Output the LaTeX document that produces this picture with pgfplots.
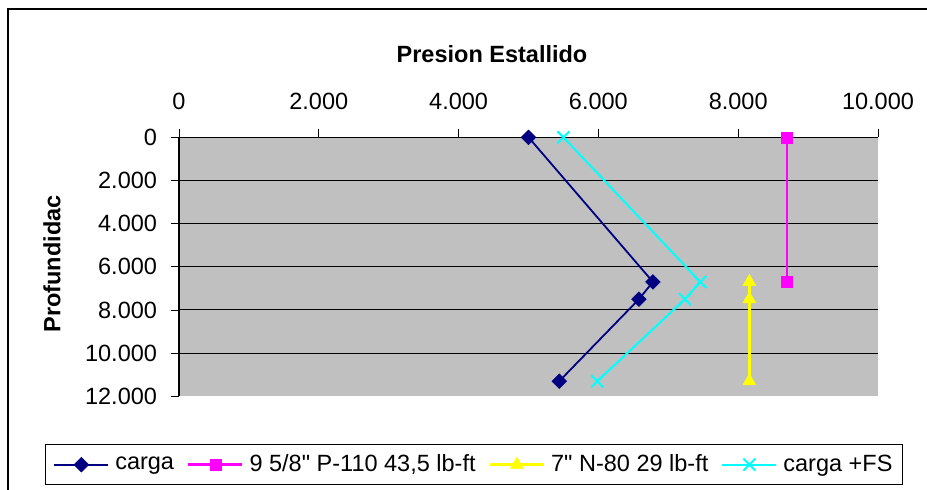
\documentclass[border=0pt]{standalone}
\usepackage{pgfplots}
\pgfplotsset{compat=1.18}
\usepackage{fontspec}
\setmainfont{Liberation Sans}
\definecolor{plotgray}{HTML}{C0C0C0}
\definecolor{navyc}{HTML}{000080}
\definecolor{magc}{HTML}{FF00FF}
\definecolor{yelc}{HTML}{FFFF00}
\definecolor{cyanc}{HTML}{00FFFF}
\begin{document}
\fontsize{23.5}{28}\selectfont
\begin{tikzpicture}
\useasboundingbox (0pt,0pt) rectangle (927pt,-490pt);
\draw[line width=1.5pt,black] (8pt,-491pt) -- (8pt,-9pt) -- (928pt,-9pt);
\node[font=\bfseries\fontsize{23.5}{28}\selectfont, anchor=base] at (492pt,-62pt) {Presion Estallido};
\node[font=\bfseries\fontsize{23.5}{28}\selectfont, rotate=90, anchor=center] at (52pt,-264pt) {Profundidac};
\begin{axis}[
  at={(179pt,-137.3pt)}, anchor=north west,
  scale only axis, width=699pt, height=259pt,
  xmin=0, xmax=10000, ymin=0, ymax=12000,
  y dir=reverse,
  clip=false,
  axis background/.style={fill=plotgray},
  axis line style={draw=none},
  xtick={0,2000,...,10000},
  ytick={0,2000,...,12000},
  xtick pos=upper, xticklabel pos=upper,
  ytick pos=left, yticklabel pos=left,
  tick align=outside,
  major tick length=8pt,
  tick style={black, line width=0.8pt},
  extra y ticks={2000,4000,6000,8000,10000},
  extra y tick labels={},
  extra y tick style={grid=major, major tick length=0pt},
  major grid style={black, line width=1pt},
  /pgf/number format/assume math mode=true,
  /pgf/number format/1000 sep={.},
  scaled ticks=false,
  tick label style={font=\fontsize{23.5}{28}\selectfont},
  xticklabel style={yshift=12pt},
  yticklabel style={xshift=-6pt},
  legend columns=4,
  legend style={at={(axis description cs:0.422,-0.264)}, anchor=center,
    draw=black, line width=1pt, inner xsep=8pt, inner ysep=8pt,
    font=\fontsize{23.5}{28}\selectfont,
    /tikz/every odd column/.append style={column sep=4pt},
    /tikz/every even column/.append style={column sep=11pt}},
  legend image code/.code={\draw[mark repeat=2,mark phase=2,#1] plot coordinates {(0pt,0pt) (27pt,0pt) (54pt,0pt)};},
]
\draw[black, line width=1.2pt] (axis cs:0,0) -- (axis cs:10000,0);
\draw[black, line width=1.2pt] (axis cs:0,0) -- (axis cs:0,12000);
\addplot[navyc, line width=1.8pt, mark=square*, mark size=5.2pt, mark options={rotate=45, fill=navyc, draw=navyc, line width=0.5pt}]
  coordinates {(5000,0) (6780,6700) (6580,7500) (5440,11300)};
\addlegendentry{carga}
\addplot[magc, line width=2.5pt, mark=square*, mark size=5.5pt, mark options={fill=magc, draw=magc, line width=0.5pt}]
  coordinates {(8700,0) (8700,6700)};
\addlegendentry{9 5/8\textquotedbl{} P-110 43,5 lb-ft}
\addplot[yelc, line width=2.5pt, mark=triangle*, mark size=7.5pt, mark options={fill=yelc, draw=yelc, line width=0.5pt}]
  coordinates {(8160,6700) (8160,7500) (8160,11300)};
\addlegendentry{7\textquotedbl{} N-80 29 lb-ft}
\addplot[cyanc, line width=2pt, mark=x, mark size=8.5pt, mark options={draw=cyanc, line width=2pt}]
  coordinates {(5500,0) (7458,6700) (7238,7500) (5984,11300)};
\addlegendentry{carga +FS}
\end{axis}
\end{tikzpicture}
\end{document}
